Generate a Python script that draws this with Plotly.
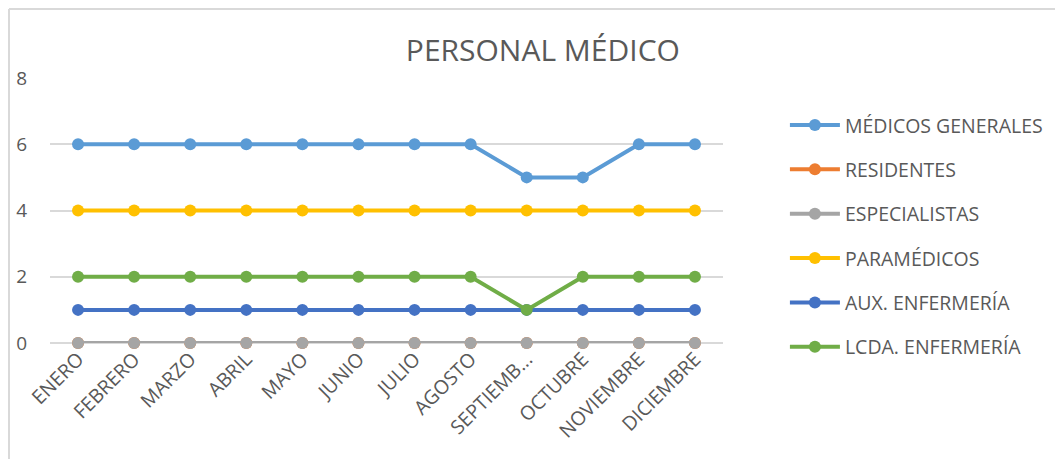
import plotly.graph_objects as go

months = ["ENERO", "FEBRERO", "MARZO", "ABRIL", "MAYO", "JUNIO", "JULIO",
          "AGOSTO", "SEPTIEMBRE", "OCTUBRE", "NOVIEMBRE", "DICIEMBRE"]
tick_labels = ["ENERO", "FEBRERO", "MARZO", "ABRIL", "MAYO", "JUNIO", "JULIO",
               "AGOSTO", "SEPTIEMB...", "OCTUBRE", "NOVIEMBRE", "DICIEMBRE"]

medicos_generales = [6, 6, 6, 6, 6, 6, 6, 6, 5, 5, 6, 6]
residentes = [0, 0, 0, 0, 0, 0, 0, 0, 0, 0, 0, 0]
especialistas = [0, 0, 0, 0, 0, 0, 0, 0, 0, 0, 0, 0]
paramedicos = [4, 4, 4, 4, 4, 4, 4, 4, 4, 4, 4, 4]
aux_enfermeria = [1, 1, 1, 1, 1, 1, 1, 1, 1, 1, 1, 1]
lcda_enfermeria = [2, 2, 2, 2, 2, 2, 2, 2, 1, 2, 2, 2]

series = [
    ("MÉDICOS GENERALES", medicos_generales, "#5B9BD5"),
    ("RESIDENTES", residentes, "#ED7D31"),
    ("ESPECIALISTAS", especialistas, "#A5A5A5"),
    ("PARAMÉDICOS", paramedicos, "#FFC000"),
    ("AUX. ENFERMERÍA", aux_enfermeria, "#4472C4"),
    ("LCDA. ENFERMERÍA", lcda_enfermeria, "#70AD47"),
]

font_family = "Open Sans, sans-serif"
text_color = "#595959"

W, H = 1055, 451
ML, MR, MT, MB = 42, 340, 70, 116
PW, PH = W - ML - MR, H - MT - MB

fig = go.Figure()
for i, (name, vals, color) in enumerate(series):
    fig.add_trace(go.Scatter(
        x=months, y=vals, name=name, mode="lines+markers",
        line=dict(color=color, width=4),
        marker=dict(color=color, size=12),
        legendgroup=f"g{i}", cliponaxis=False,
    ))

fig.update_layout(
    width=W, height=H,
    margin=dict(l=ML, r=MR, t=MT, b=MB, autoexpand=False),
    paper_bgcolor="white", plot_bgcolor="white",
    font=dict(family=font_family, color=text_color, size=17),
    title=dict(text="PERSONAL MÉDICO", x=0.507, xanchor="center",
               y=0.905, yanchor="middle",
               font=dict(size=30, color=text_color, family=font_family)),
    showlegend=True,
    legend=dict(x=1.092, xanchor="left", y=0.895, yanchor="top",
                font=dict(size=19.5, color=text_color),
                tracegroupgap=16, itemwidth=50,
                bgcolor="rgba(0,0,0,0)"),
    xaxis=dict(tickmode="array", tickvals=months, ticktext=tick_labels,
               tickangle=-45, showgrid=False, showline=False, zeroline=False,
               ticks="", range=[-0.5, 11.5], automargin=False,
               tickfont=dict(size=19.5, color=text_color)),
    yaxis=dict(range=[0, 8], dtick=2, tick0=0, showgrid=True,
               gridcolor="#D9D9D9", gridwidth=1.5, zeroline=True,
               zerolinecolor="#D9D9D9", zerolinewidth=1.5,
               showline=False, ticks="", ticklabelstandoff=22,
               automargin=False,
               tickfont=dict(size=19, color=text_color)),
    shapes=[
        dict(type="line", xref="paper", yref="paper",
             x0=-(ML - 1) / PW, x1=(W - ML) / PW,
             y0=1 + (MT - 1) / PH, y1=1 + (MT - 1) / PH,
             line=dict(color="#D9D9D9", width=2)),
        dict(type="line", xref="paper", yref="paper",
             x0=-(ML - 1) / PW, x1=-(ML - 1) / PW,
             y0=1 + (MT - 1) / PH, y1=-MB / PH,
             line=dict(color="#D9D9D9", width=2)),
    ],
)

fig.write_html("out.html")
